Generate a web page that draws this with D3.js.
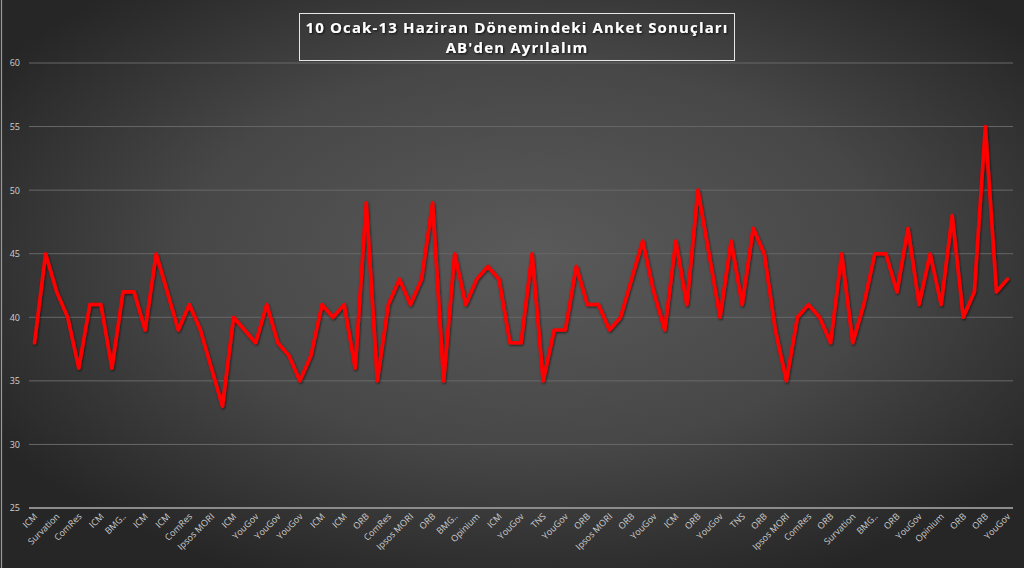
<!DOCTYPE html>
<html><head><meta charset="utf-8">
<script src="https://cdn.jsdelivr.net/npm/d3@7"></script>
<style>
html,body{margin:0;padding:0;background:#2b2b2b;}
svg{display:block;}
</style></head>
<body>
<svg id="chart" width="1024" height="568"></svg>
<script>
const titleLines = ["10 Ocak-13 Haziran Dönemindeki Anket Sonuçları", "AB'den Ayrılalım"];
const values = [38,45,42,40,36,41,41,36,42,42,39,45,42,39,41,39,36,33,40,39,
  38,41,38,37,35,37,41,40,41,36,49,35,41,43,41,43,49,35,45,41,
  43,44,43,38,38,45,35,39,39,44,41,41,39,40,43,46,42,39,46,41,
  50,45,40,46,41,47,45,39,35,40,41,40,38,45,38,41,45,45,42,47,
  41,45,41,48,40,42,55,42,43];
const tickLabels = ["ICM","Survation","ComRes","ICM","BMG..","ICM","ICM","ComRes","Ipsos MORI","ICM",
  "YouGov","YouGov","YouGov","ICM","ICM","ORB","ComRes","Ipsos MORI","ORB","BMG..",
  "Opinium","ICM","YouGov","TNS","YouGov","ORB","Ipsos MORI","ORB","YouGov","ICM",
  "ORB","YouGov","TNS","ORB","Ipsos MORI","ComRes","ORB","Survation","BMG..","ORB",
  "YouGov","Opinium","ORB","ORB","YouGov"];
const yTicks = [25,30,35,40,45,50,55,60];

const svg = d3.select("#chart");
const W = 1024, H = 568;
const defs = svg.append("defs");
const rg = defs.append("radialGradient").attr("id","bg")
  .attr("cx","52%").attr("cy","45%").attr("r","62%");
rg.append("stop").attr("offset","0%").attr("stop-color","#5a5a5a");
rg.append("stop").attr("offset","55%").attr("stop-color","#474747");
rg.append("stop").attr("offset","100%").attr("stop-color","#262626");
const sh = defs.append("filter").attr("id","shadow").attr("x","-5%").attr("y","-5%").attr("width","110%").attr("height","110%");
sh.append("feDropShadow").attr("dx",0.8).attr("dy",1.2).attr("stdDeviation",1.2).attr("flood-color","#000").attr("flood-opacity",0.6);
const tsh = defs.append("filter").attr("id","tshadow");
tsh.append("feDropShadow").attr("dx",1).attr("dy",1).attr("stdDeviation",0.8).attr("flood-color","#000").attr("flood-opacity",0.8);

svg.append("rect").attr("width",W).attr("height",H).attr("fill","url(#bg)");
svg.append("line").attr("x1",1.5).attr("x2",1.5).attr("y1",0).attr("y2",H)
  .attr("stroke","#9a9a9a").attr("stroke-width",1.2);

const x = d3.scalePoint().domain(d3.range(values.length)).range([29,1013]).padding(0.5);
const y = d3.scaleLinear().domain([25,60]).range([508,63]);

// gridlines
svg.append("g").selectAll("line").data(yTicks.filter(t=>t!==25)).join("line")
  .attr("x1",29).attr("x2",1013).attr("y1",d=>y(d)).attr("y2",d=>y(d))
  .attr("stroke","#686868").attr("stroke-width",1);

// y axis labels
const yAxis = d3.axisLeft(y).tickValues(yTicks).tickSize(0).tickPadding(0);
const gy = svg.append("g").attr("transform","translate(20,0)").call(yAxis);
gy.select(".domain").remove();
gy.selectAll("text").attr("fill","#cfcfcf").attr("font-family","'Open Sans', sans-serif").attr("font-size",9).attr("text-anchor","end");

// x axis
const evenIdx = d3.range(0, values.length, 2);
const xAxis = d3.axisBottom(x).tickValues(evenIdx).tickFormat((d,i)=>tickLabels[i]).tickSize(0).tickPadding(0);
const gx = svg.append("g").attr("transform","translate(0,508)").call(xAxis);
gx.select(".domain").attr("d","M29,0H1013").attr("stroke","#8c8c8c").attr("stroke-width",2);
gx.selectAll("text").attr("fill","#cfcfcf").attr("font-family","'Open Sans', sans-serif").attr("font-size",9)
  .attr("text-anchor","end").attr("dy",0)
  .attr("transform","translate(3,9) rotate(-45)");

// line
const line = d3.line().x((d,i)=>x(i)).y(d=>y(d));
svg.append("path").datum(values).attr("d",line).attr("fill","none")
  .attr("stroke","#ff0000").attr("stroke-width",3.6).attr("stroke-linejoin","round").attr("stroke-linecap","round")
  .attr("filter","url(#shadow)");

// title
svg.append("rect").attr("x",299.5).attr("y",13.5).attr("width",435).attr("height",47)
  .attr("fill","none").attr("stroke","#e6e6e6").attr("stroke-width",1);
svg.append("g").selectAll("text").data(titleLines).join("text")
  .attr("x",517).attr("y",(d,i)=>32.5+i*20.5)
  .attr("text-anchor","middle").attr("fill","#ffffff")
  .attr("font-family","'Open Sans', sans-serif").attr("font-weight","bold").attr("font-size",15)
  .attr("letter-spacing",1.15)
  .attr("filter","url(#tshadow)")
  .text(d=>d);
</script>
</body></html>
